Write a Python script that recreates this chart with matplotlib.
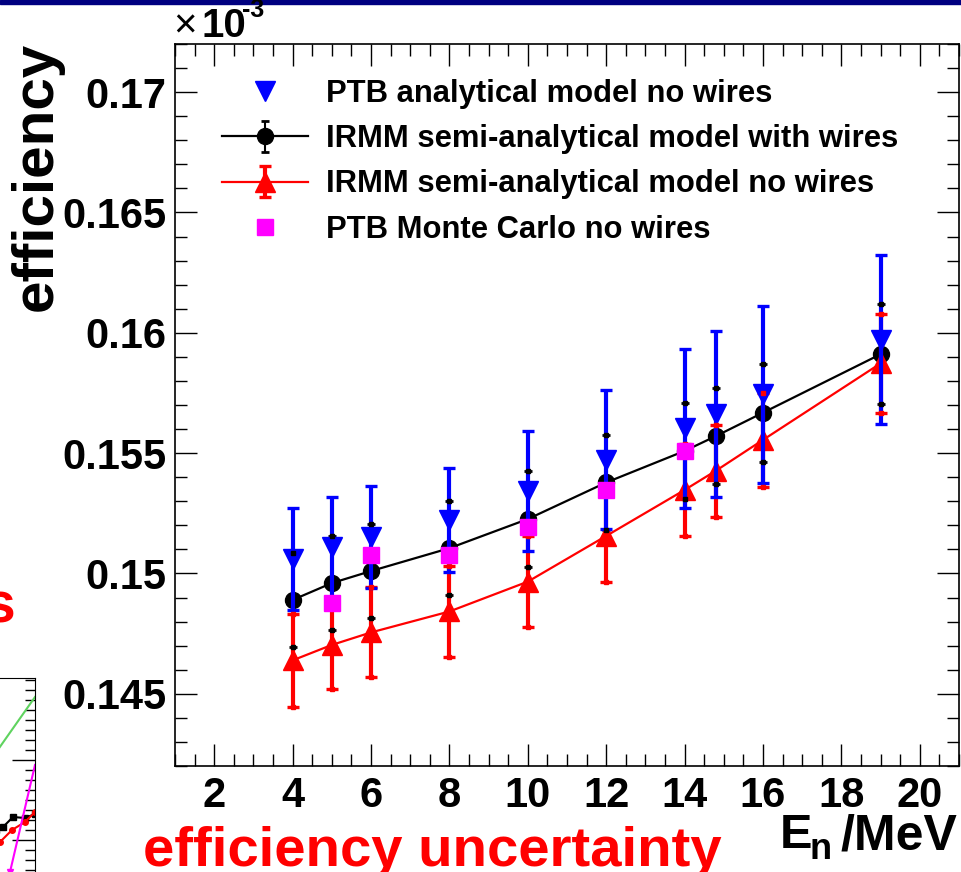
import matplotlib
matplotlib.use('Agg')
import matplotlib.pyplot as plt
from matplotlib.lines import Line2D
from matplotlib.patches import Rectangle
from matplotlib.ticker import MultipleLocator, FuncFormatter, FixedLocator

plt.rcParams['font.family'] = ['Liberation Sans', 'DejaVu Sans']
plt.rcParams['font.weight'] = 'bold'

W, H = 961, 872

# neutron energy (MeV) and efficiency (in units of 1e-3)
energy = [4, 5, 6, 8, 10, 12, 14, 14.8, 16, 19]
eff_wires = [0.1489, 0.1496, 0.1501, 0.15105, 0.15226, 0.15378, 0.15509, 0.15571, 0.15668, 0.15911]
err_wires = [0.00194, 0.00195, 0.00194, 0.00196, 0.00199, 0.00197, 0.00199, 0.00200, 0.00204, 0.00208]
eff_nowires = [0.14639, 0.14703, 0.14755, 0.14842, 0.14966, 0.15156, 0.15347, 0.15427, 0.15555, 0.15873]
err_nowires = [0.00192, 0.00184, 0.00187, 0.00190, 0.00190, 0.00191, 0.00191, 0.00191, 0.00194, 0.00206]
eff_ptb = [0.15061, 0.15110, 0.15152, 0.15223, 0.15342, 0.15473, 0.15603, 0.15662, 0.15744, 0.15972]
err_ptb = [0.00212, 0.00206, 0.00213, 0.00215, 0.00250, 0.00289, 0.00329, 0.00346, 0.00369, 0.00351]

energy_mc = [5, 6, 8, 10, 12, 14]
eff_mc = [0.14877, 0.15077, 0.15077, 0.15191, 0.15347, 0.15509]

labels = ['PTB analytical model no wires',
          'IRMM semi-analytical model with wires',
          'IRMM semi-analytical model no wires',
          'PTB Monte Carlo no wires']

# pieces of the neighbouring plot on the slide (its own units)
side_green_x = [9.0, 13.5]
side_green_y = [12.9, 19.3]
side_mag_x = [10.7, 11.0, 13.5]
side_mag_y = [0.0, 1.8, 12.5]
side_black_x = [9.6, 10.3, 11.3, 12.5, 13.5]
side_black_y = [6.0, 6.3, 7.3, 7.2, 7.6]
side_red_x = [9.6, 10.0, 11.2, 12.5, 13.5]
side_red_y = [4.5, 4.8, 6.0, 6.8, 7.8]


def fx(px):
    return px / W


def fy(py):
    return 1 - py / H


fig = plt.figure(figsize=(W / 100, H / 100), dpi=100)
fig.patch.set_facecolor('white')
fig.patches.append(Rectangle((0, fy(4)), 1, 4 / H, transform=fig.transFigure,
                             color='#000080', zorder=0))

ax = fig.add_axes([fx(175), fy(766), fx(959) - fx(175), fy(44) - fy(766)])
ax.set_xlim(1, 21)
ax.set_ylim(0.142, 0.172)

blk = ax.errorbar(energy, eff_wires, yerr=err_wires, color='black', marker='o', ms=11.5,
                  lw=1.6, elinewidth=1.5, capsize=3, capthick=2, zorder=2)
red = ax.errorbar(energy, eff_nowires, yerr=err_nowires, color='red', marker='^', ms=14,
                  lw=1.6, elinewidth=3, capsize=4.5, capthick=2.4, zorder=3)
ax.errorbar(energy, eff_ptb, yerr=err_ptb, color='blue', marker='v', ms=14,
            ls='none', elinewidth=3, capsize=4.5, capthick=2.4, zorder=4)

# end marks of the IRMM bars stay visible over the PTB bars
lo_w = [v - e for v, e in zip(eff_wires, err_wires)]
hi_w = [v + e for v, e in zip(eff_wires, err_wires)]
lo_n = [v - e for v, e in zip(eff_nowires, err_nowires)]
hi_n = [v + e for v, e in zip(eff_nowires, err_nowires)]
ax.plot(energy, lo_n, 's', color='red', ms=2.3, zorder=5)
ax.plot(energy, hi_n, 's', color='red', ms=2.3, zorder=5)
ax.plot(energy, lo_w, 's', color='black', ms=2.3, zorder=5)
ax.plot(energy, hi_w, 's', color='black', ms=2.3, zorder=5)

ax.plot(energy_mc, eff_mc, 's', color='#ff00ff', ms=11, zorder=6)

ax.xaxis.set_major_locator(MultipleLocator(2))
ax.xaxis.set_minor_locator(MultipleLocator(0.5))
ax.yaxis.set_major_locator(MultipleLocator(0.005))
ax.yaxis.set_minor_locator(MultipleLocator(0.001))
ax.yaxis.set_major_formatter(FuncFormatter(lambda v, p: f'{v:g}'))
ax.tick_params(which='both', direction='in', top=True, right=True, width=1, color='black')
ax.tick_params(which='major', length=16)
ax.tick_params(which='minor', length=8.5)
ax.tick_params(axis='x', labelsize=30, pad=7)
ax.tick_params(axis='y', labelsize=30, pad=6)
for s in ax.spines.values():
    s.set_linewidth(1.2)

h_ptb = Line2D([], [], color='blue', marker='v', ms=14, ls='none')
h_mc = Line2D([], [], color='#ff00ff', marker='s', ms=11, ls='none')
ax.legend([h_ptb, blk, red, h_mc], labels, loc='upper left',
          bbox_to_anchor=(fx(222), fy(79)), bbox_transform=fig.transFigure,
          frameon=False, borderpad=0, borderaxespad=0, handlelength=2.77,
          handletextpad=0.6, labelspacing=0.49, numpoints=1,
          prop={'weight': 'bold', 'size': 22.3})

fig.text(fx(37), fy(176), 'efficiency', rotation=90, ha='center', va='center',
         fontsize=42, fontweight='bold')
fig.text(fx(173), fy(37), '\u00d7', fontsize=29, fontweight='normal', ha='left', va='baseline')
fig.text(fx(201), fy(37), '10', fontsize=29, fontweight='bold', ha='left', va='baseline')
fig.text(fx(242), fy(17), '-3', fontsize=18, fontweight='bold', ha='left', va='baseline')

fig.text(fx(780), fy(848), 'E', fontsize=35, fontweight='bold', ha='left', va='baseline')
fig.text(fx(809), fy(859), 'n', fontsize=26, fontweight='bold', ha='left', va='baseline')
fig.text(fx(957), fy(849), '/MeV', fontsize=36, fontweight='bold', ha='right', va='baseline')

fig.text(fx(143), fy(866), 'efficiency uncertainty', fontsize=40.5, fontweight='bold',
         color='red', ha='left', va='baseline')
fig.text(fx(16), fy(622), 's', fontsize=41, fontweight='bold', color='red',
         ha='right', va='baseline')

# neighbouring plot, mostly cut off by the slide edge
ax2 = fig.add_axes([fx(-100), fy(898), 135 / W, 220 / H])
ax2.set_xlim(0, 13.5)
ax2.set_ylim(-0.8, 21.2)
ax2.plot(side_green_x, side_green_y, color='#5fd35f', lw=1.5)
ax2.plot(side_black_x, side_black_y, color='black', lw=1.5, marker='s', ms=4)
ax2.plot(side_red_x, side_red_y, color='red', lw=1.5, marker='o', ms=4)
ax2.plot(side_mag_x, side_mag_y, color='#ff00ff', lw=1.5, marker='v', ms=5, markevery=[1])
ax2.yaxis.set_major_locator(FixedLocator([5, 13]))
ax2.yaxis.set_minor_locator(MultipleLocator(1))
ax2.tick_params(which='both', direction='in', left=False, right=True, bottom=False,
                labelleft=False, labelbottom=False, width=1)
ax2.tick_params(which='major', length=16.5)
ax2.tick_params(which='minor', length=7)
ax2.spines['bottom'].set_visible(False)

fig.savefig('out.png', dpi=100)
